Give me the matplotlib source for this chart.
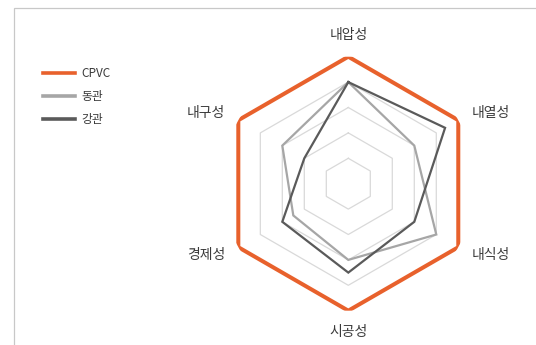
import numpy as np
import matplotlib
matplotlib.use("Agg")
import matplotlib.pyplot as plt
from matplotlib.patches import Rectangle

plt.rcParams['font.family'] = ['Noto Sans CJK KR', 'DejaVu Sans']

categories = ['내압성', '내열성', '내식성', '시공성', '경제성', '내구성']
series_names = ['CPVC', '동관', '강관']
cpvc = [5, 5, 5, 5, 5, 5]
copper = [4, 3, 4, 3, 2.5, 3]
steel = [4, 4.4, 3, 3.5, 3, 2]
levels = [1, 2, 3, 4, 5]

colors = ['#E8612C', '#A6A6A6', '#5A5A5A']
widths = [2.9, 1.6, 1.6]

W, H = 536, 345
fig = plt.figure(figsize=(W / 100, H / 100), dpi=100)
fig.patch.set_facecolor('white')

# frame border (left and top visible)
fig.add_artist(Rectangle((14 / W, -0.2), 1.2, (H - 7.5) / H + 0.2,
                         transform=fig.transFigure, fill=False,
                         edgecolor='#C8C8C8', linewidth=0.9))

cx, cy, R = 348.3, 183.7, 127
ax = fig.add_axes([(cx - R) / W, (H - cy - R) / H, 2 * R / W, 2 * R / H],
                  projection='polar')
ax.set_theta_offset(np.pi / 2)
ax.set_theta_direction(-1)
ax.set_ylim(0, 5)
ax.grid(False)
ax.spines['polar'].set_visible(False)
ax.set_xticks([])
ax.set_yticks([])
ax.patch.set_alpha(0)

n = len(categories)
angles = [2 * np.pi * i / n for i in range(n)]
ang_closed = angles + angles[:1]

for lv in levels[:-1]:
    ax.plot(ang_closed, [lv] * (n + 1), color='#D9D9D9', linewidth=0.9, zorder=1)

lines = []
for name, vals, c, lw in zip(series_names, [cpvc, copper, steel], colors, widths):
    ln, = ax.plot(ang_closed, list(vals) + [vals[0]], color=c, linewidth=lw,
                  label=name, zorder=3 if name == 'CPVC' else 2,
                  solid_joinstyle='miter')
    lines.append(ln)

# category labels
label_r = 5.6
fs = 10
tc = '#3A3A3A'
for a, lab in zip(angles, categories):
    deg = np.degrees(a) % 360
    if deg < 1 or abs(deg - 360) < 1:
        ax.text(a, 5.85, lab, ha='center', va='center', fontsize=fs, color=tc)
    elif abs(deg - 180) < 1:
        ax.text(a, 5.85, lab, ha='center', va='center', fontsize=fs, color=tc)
    elif deg < 180:
        ax.text(a, label_r, lab, ha='left', va='center', fontsize=fs, color=tc)
    else:
        ax.text(a, label_r, lab, ha='right', va='center', fontsize=fs, color=tc)

leg = fig.legend(handles=lines, labels=series_names, loc='upper left',
                 bbox_to_anchor=(38 / W, 1 - 62 / H), frameon=False,
                 fontsize=8.5, handlelength=2.7, handletextpad=0.55,
                 labelspacing=0.88, borderaxespad=0)
for l in leg.get_lines():
    l.set_linewidth(2.6)
for t in leg.get_texts():
    t.set_color(tc)

fig.savefig('out.png', dpi=100, facecolor='white')
